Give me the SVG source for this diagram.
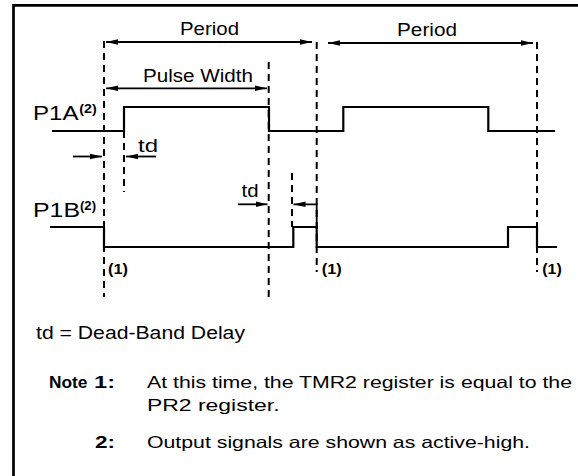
<svg xmlns="http://www.w3.org/2000/svg" width="578" height="476" viewBox="0 0 578 476">
<style>
.wave{fill:none;stroke:#000;stroke-width:2.2;stroke-linejoin:miter}
.dash{fill:none;stroke:#000;stroke-width:2;stroke-dasharray:7 5}
.arr{fill:none;stroke:#000;stroke-width:1.8}
.t{font-family:"Liberation Sans",Arial,sans-serif;fill:#000}
.b{font-weight:bold}
</style>
<defs>
<marker id="ah" viewBox="0 0 12 8" refX="12" refY="4" markerWidth="12" markerHeight="8" markerUnits="userSpaceOnUse" orient="auto-start-reverse">
<path d="M0,1.2 L12,4 L0,6.8 z" fill="#000"/>
</marker>
</defs>
<rect width="578" height="476" fill="#fff"/>
<g id="frame"><path d="M13.5,476 V5.3 H578" fill="none" stroke="#000" stroke-width="2.7"/></g>

<g id="guides">
<line class="dash" x1="104" y1="41" x2="104" y2="297"/>
<line class="dash" x1="268.7" y1="62" x2="268.7" y2="298"/>
<line class="dash" x1="316.7" y1="42" x2="316.7" y2="272"/>
<line class="dash" x1="537" y1="42" x2="537" y2="272"/>
<line class="dash" x1="124" y1="131" x2="124" y2="192"/>
<line class="dash" x1="292" y1="173" x2="292" y2="227"/>
</g>

<g id="signal-p1a"><path class="wave" d="M52,131 H124 V107 H269 V131 H343.3 V107 H488.3 V131 H555"/></g>
<g id="signal-p1b"><path class="wave" d="M50,227 H104 V247 H293.3 V227 H316.7 V247 H508 V227 H537 V247 H557"/></g>

<g id="connectors">
<line class="arr" x1="106" y1="42" x2="312" y2="42" marker-start="url(#ah)" marker-end="url(#ah)"/>
<line class="arr" x1="328" y1="43" x2="533" y2="43" marker-start="url(#ah)" marker-end="url(#ah)"/>
<line class="arr" x1="106" y1="88.3" x2="267" y2="88.3" marker-start="url(#ah)" marker-end="url(#ah)"/>
<line class="arr" x1="73" y1="156.5" x2="102" y2="156.5" marker-end="url(#ah)"/>
<line class="arr" x1="156" y1="156.5" x2="126" y2="156.5" marker-end="url(#ah)"/>
<line class="arr" x1="238" y1="204.3" x2="267.5" y2="204.3" marker-end="url(#ah)"/>
<path class="arr" d="M316.7,227 V204.3 H293.5" marker-end="url(#ah)"/>
</g>

<g id="labels">
<text class="t" x="180" y="35" font-size="17.5" textLength="59" lengthAdjust="spacingAndGlyphs">Period</text>
<text class="t" x="397" y="36" font-size="17.5" textLength="60" lengthAdjust="spacingAndGlyphs">Period</text>
<text class="t" x="143" y="81.5" font-size="18" textLength="110" lengthAdjust="spacingAndGlyphs">Pulse Width</text>
<text class="t" x="33" y="119.5" font-size="19.5" textLength="45.5" lengthAdjust="spacingAndGlyphs">P1A</text>
<text class="t b" x="79.3" y="112.5" font-size="13.5" textLength="17.4" lengthAdjust="spacingAndGlyphs">(2)</text>
<text class="t" x="33" y="216.7" font-size="19.5" textLength="47" lengthAdjust="spacingAndGlyphs">P1B</text>
<text class="t b" x="80" y="210" font-size="13.5" textLength="16" lengthAdjust="spacingAndGlyphs">(2)</text>
<text class="t" x="138" y="152" font-size="18.5" textLength="20" lengthAdjust="spacingAndGlyphs">td</text>
<text class="t" x="241.5" y="196.7" font-size="18.5" textLength="17" lengthAdjust="spacingAndGlyphs">td</text>
<text class="t b" x="108" y="273.5" font-size="14" textLength="20" lengthAdjust="spacingAndGlyphs">(1)</text>
<text class="t b" x="321.7" y="273.5" font-size="14" textLength="20" lengthAdjust="spacingAndGlyphs">(1)</text>
<text class="t b" x="542.3" y="273.5" font-size="14" textLength="19.5" lengthAdjust="spacingAndGlyphs">(1)</text>
</g>

<g id="notes">
<text class="t" x="36" y="339" font-size="17.5" textLength="209" lengthAdjust="spacingAndGlyphs">td = Dead-Band Delay</text>
<text class="t b" x="49" y="387.5" font-size="16.5" textLength="38.5" lengthAdjust="spacingAndGlyphs">Note</text>
<text class="t b" x="94" y="387.5" font-size="16.5" textLength="21" lengthAdjust="spacingAndGlyphs">1:</text>
<text class="t" x="147" y="387.5" font-size="16.5" textLength="425" lengthAdjust="spacingAndGlyphs">At this time, the TMR2 register is equal to the</text>
<text class="t" x="147" y="411" font-size="16.5" textLength="132.5" lengthAdjust="spacingAndGlyphs">PR2 register.</text>
<text class="t b" x="95" y="448" font-size="16.5" textLength="20" lengthAdjust="spacingAndGlyphs">2:</text>
<text class="t" x="147" y="448" font-size="16.5" textLength="383" lengthAdjust="spacingAndGlyphs">Output signals are shown as active-high.</text>
</g>
</svg>
